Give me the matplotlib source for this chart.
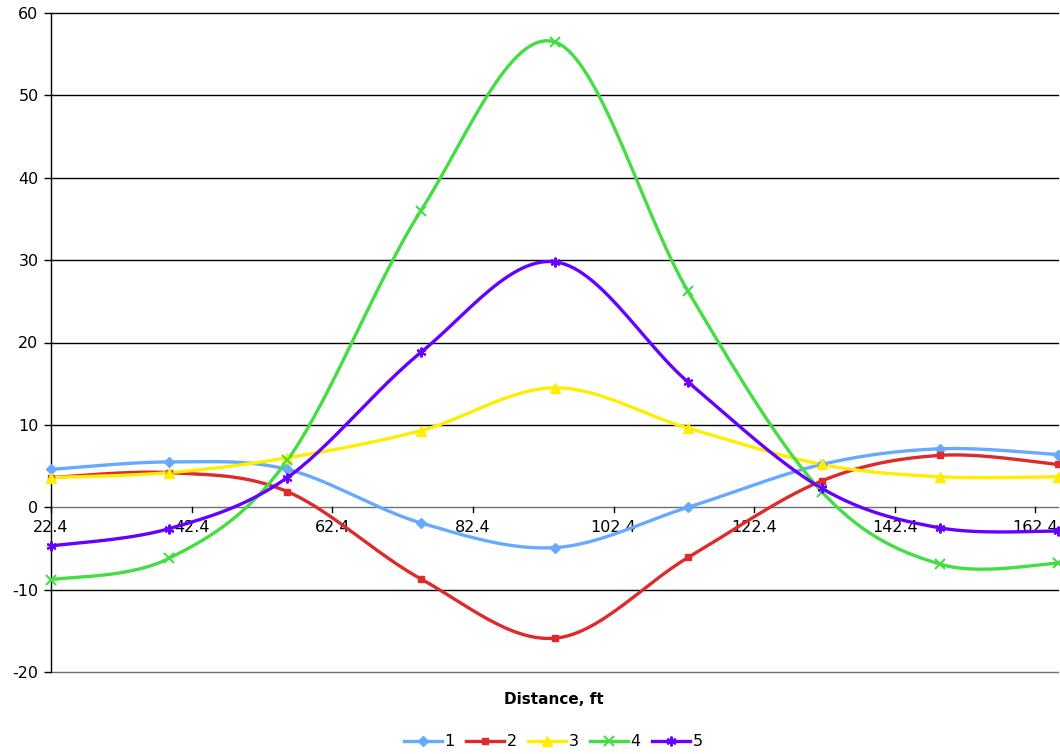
import numpy as np
import matplotlib
matplotlib.use("Agg")
import matplotlib.pyplot as plt
from matplotlib.lines import Line2D

plt.rcParams["axes.unicode_minus"] = False

# distance along the section, ft
distance = [22.4, 39.2, 56.0, 75.0, 94.0, 113.0, 132.0, 148.8, 165.6]

s1 = [4.6, 5.5, 4.6, -1.9, -4.9, 0.0, 5.2, 7.1, 6.4]
s2 = [3.6, 4.2, 1.9, -8.7, -15.9, -6.1, 3.2, 6.3, 5.2]
s3 = [3.6, 4.2, 6.0, 9.3, 14.5, 9.6, 5.2, 3.7, 3.7]
s4 = [-8.8, -6.2, 5.7, 36.0, 56.5, 26.2, 1.9, -6.9, -6.8]
s5 = [-4.7, -2.6, 3.6, 18.8, 29.8, 15.2, 2.3, -2.5, -2.9]

names = ["1", "2", "3", "4", "5"]
colors = ["#66aaff", "#dd2a2a", "#ffee00", "#44dd44", "#6600ff"]
markers = ["D", "s", "^", "x", (6, 2, 0)]
msizes = [5, 5, 6.5, 6.5, 7]
mews = [1, 1, 1, 1.5, 1.5]

xticks = [22.4, 42.4, 62.4, 82.4, 102.4, 122.4, 142.4, 162.4]

fig = plt.figure(figsize=(10.6, 7.54), dpi=100)
ax = fig.add_axes([51 / 1060, 1 - 672 / 754, 1007 / 1060, 659 / 754])
ax.set_xlim(22.4, 165.6)
ax.set_ylim(-20, 60)


def smooth(xs, ys, n=30):
    # excel-style bezier smoothing, done in display space
    pts = ax.transData.transform(np.column_stack([xs, ys]))
    out = [pts[0]]
    for i in range(len(pts) - 1):
        p0 = pts[max(i - 1, 0)]
        p1 = pts[i]
        p2 = pts[i + 1]
        p3 = pts[min(i + 2, len(pts) - 1)]
        c1 = p1 + (p2 - p0) / 6
        c2 = p2 - (p3 - p1) / 6
        t = np.linspace(0, 1, n)[1:, None]
        seg = ((1 - t) ** 3 * p1 + 3 * (1 - t) ** 2 * t * c1
               + 3 * (1 - t) * t ** 2 * c2 + t ** 3 * p2)
        out.extend(seg)
    out = ax.transData.inverted().transform(np.array(out))
    return out[:, 0], out[:, 1]


for y in range(-20, 61, 10):
    ax.axhline(y, color="#000000" if y not in (0, -20) else "#707070", lw=1.0,
               zorder=1, clip_on=False)

handles = []
for ys, name, c, m, ms, mw in zip([s1, s2, s3, s4, s5], names, colors, markers,
                                  msizes, mews):
    sx, sy = smooth(distance, ys)
    ax.plot(sx, sy, color=c, lw=2.4, zorder=3, solid_capstyle="round")
    ax.plot(distance, ys, ls="none", marker=m, color=c, ms=ms, mew=mw,
            zorder=4, clip_on=False)
    handles.append(Line2D([0], [0], color=c, lw=2.4, marker=m, ms=ms, mew=mw,
                          label=name))

for sp in ["top", "right", "bottom"]:
    ax.spines[sp].set_visible(False)
ax.spines["left"].set_color("#000000")
ax.spines["left"].set_linewidth(1.0)

ax.set_yticks(range(-20, 61, 10))
ax.tick_params(axis="y", direction="out", length=5, width=1, labelsize=11.5,
               pad=4, colors="#000000")
ax.set_xticks([])

# x axis runs along y = 0 with ticks and labels just below
for xt in xticks:
    ax.plot([xt, xt], [0, -0.6], color="#000000", lw=1, zorder=2, clip_on=False)
    ax.text(xt, -1.5, f"{xt:g}", ha="center", va="top", fontsize=11.5,
            zorder=2)

fig.text(554 / 1060, 1 - 700 / 754, "Distance, ft", ha="center", va="center",
         fontsize=11, fontweight="bold")
fig.legend(handles=handles, loc="center", bbox_to_anchor=(553 / 1060, 1 - 742 / 754),
           ncol=5, frameon=False, fontsize=11.5, handlelength=2.4,
           handletextpad=0.15, columnspacing=0.7)

fig.savefig("out.png", dpi=100)
